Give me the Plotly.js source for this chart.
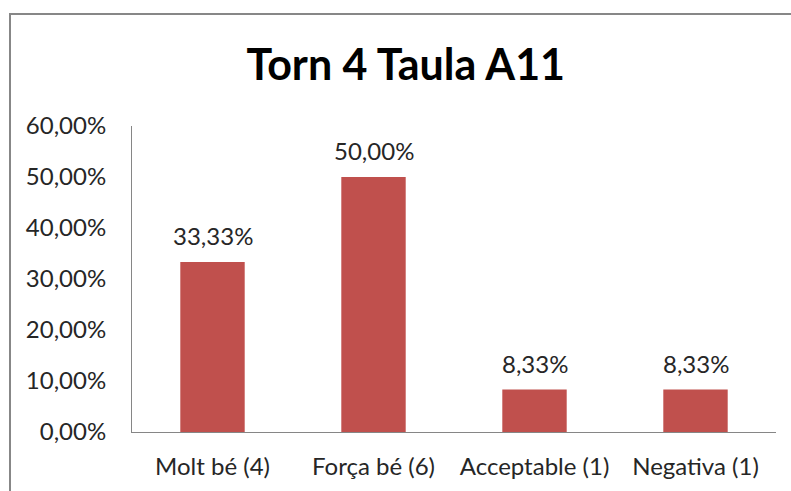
<!DOCTYPE html>
<html>
<head>
<meta charset="utf-8">
<script src="https://cdn.plot.ly/plotly-3.0.1.min.js"></script>
<style>
  html, body { margin: 0; padding: 0; background: #fff; }
  #wrap { position: relative; width: 791px; height: 491px; overflow: hidden; }
  #chart { width: 791px; height: 491px; }
  #frame { position: absolute; left: 9px; top: 13px; width: 800px; height: 500px;
           border-left: 2px solid #878787; border-top: 2px solid #878787; pointer-events: none; }
</style>
</head>
<body>
<div id="wrap">
  <div id="chart"></div>
  <div id="frame"></div>
</div>
<script>
const categories = ["Molt bé (4)", "Força bé (6)", "Acceptable (1)", "Negativa (1)"];
const values = [0.3333, 0.5000, 0.0833, 0.0833];
const titleText = "Torn 4 Taula A11";

const FONT = "Lato, 'Open Sans', sans-serif";
const fmt = v => (v * 100).toFixed(2).replace('.', ',') + '%';

const trace = {
  type: 'bar',
  x: categories,
  y: values,
  marker: { color: '#C0504D', line: { width: 0 } },
  width: 0.4,
  hoverinfo: 'skip'
};

const annotations = categories.map((c, i) => ({
  x: c, y: values[i], xref: 'x', yref: 'y',
  text: fmt(values[i]),
  showarrow: false,
  yanchor: 'bottom',
  yshift: 10,
  font: { family: FONT, size: 24, color: '#262626' }
}));

const layout = {
  width: 791, height: 491,
  margin: { l: 132, r: 15, t: 126, b: 59 },
  paper_bgcolor: '#ffffff',
  plot_bgcolor: '#ffffff',
  separators: ',.',
  showlegend: false,
  title: {
    text: '<b>' + titleText + '</b>',
    font: { family: FONT, size: 43, color: '#000000' },
    xref: 'container', x: 0.513, xanchor: 'center',
    yref: 'container', y: 1 - 65 / 491, yanchor: 'middle'
  },
  xaxis: {
    type: 'category',
    showgrid: false,
    showline: true, linecolor: '#868686', linewidth: 1,
    ticks: '',
    ticklabelstandoff: 13,
    tickfont: { family: FONT, size: 24, color: '#262626' },
    fixedrange: true
  },
  yaxis: {
    range: [0, 0.6],
    dtick: 0.1, tick0: 0,
    tickformat: '.2%',
    showgrid: false,
    zeroline: false,
    showline: true, linecolor: '#868686', linewidth: 1,
    ticks: '',
    ticklabelstandoff: 20,
    tickfont: { family: FONT, size: 24, color: '#262626' },
    fixedrange: true
  },
  annotations: annotations
};

Plotly.newPlot('chart', [trace], layout, { displayModeBar: false, staticPlot: true });
</script>
</body>
</html>
